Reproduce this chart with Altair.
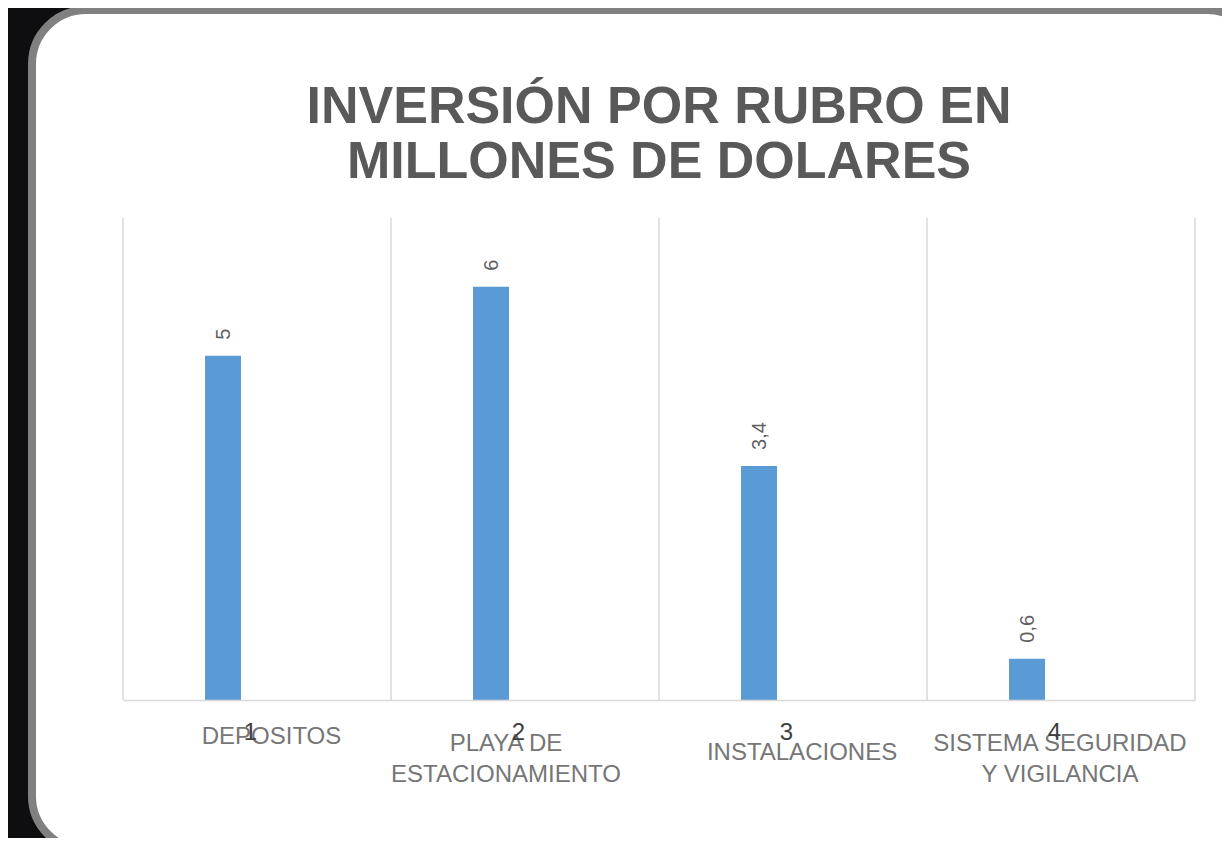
import altair as alt
import pandas as pd

# ---- data ----
nums = ["1", "2", "3", "4"]
names = ["DEPOSITOS", "PLAYA DE\nESTACIONAMIENTO", "INSTALACIONES", "SISTEMA SEGURIDAD\nY VIGILANCIA"]
values = [5, 6, 3.4, 0.6]
value_labels = ["5", "6", "3,4", "0,6"]
title_lines = ["INVERSIÓN POR RUBRO EN", "MILLONES DE DOLARES"]

df = pd.DataFrame({"num": nums, "name": names, "value": values, "label": value_labels})

# ---- layout / style ----
W, H = 1072, 482
FONT = "Liberation Sans"
GRID = "#d9d9d9"
BAR = "#5B9BD5"

xscale = alt.Scale(paddingInner=0, paddingOuter=0)
x_axis = alt.Axis(title=None, labelAngle=0, labelFontSize=24, labelColor="#404040",
                  labelFont=FONT, labelPadding=32, ticks=False, tickSize=0, grid=False,
                  domainColor=GRID, domainWidth=1.5, zindex=2)
xenc = alt.X("num:N", sort=nums, scale=xscale, axis=x_axis)
yenc = alt.Y("value:Q", scale=alt.Scale(domain=[0, 7], nice=False), axis=None)

base = alt.Chart(df)

card = alt.Chart(alt.Data(values=[{}])).mark_rect(
    fill="white", stroke="#808080", strokeWidth=8, cornerRadius=54
).encode(x=alt.value(-91), x2=alt.value(1138), y=alt.value(-208), y2=alt.value(632))

grid_left = base.mark_rule(color=GRID, strokeWidth=1.5).encode(
    x=alt.X("num:N", sort=nums, bandPosition=0))
grid_right = base.transform_filter(alt.datum.num == nums[-1]).mark_rule(
    color=GRID, strokeWidth=1.5).encode(x=alt.X("num:N", sort=nums, bandPosition=1))

bars = base.mark_bar(color=BAR, width=36, xOffset=-34).encode(x=xenc, y=yenc)

vlabels = base.mark_text(angle=270, align="left", baseline="middle", dx=16, xOffset=-33,
                         fontSize=20, color="#5f5f5f", font=FONT).encode(
    x=alt.X("num:N", sort=nums), y=yenc, text="label:N")

# category names overlaid below the axis numbers (offsets per label as in the reference)
name_style = [(14.5, 525.6), (-19, 532.7), (9, 542), (-1, 533)]
name_layers = []
for n, (dx, yv) in zip(nums, name_style):
    name_layers.append(
        base.transform_filter(alt.datum.num == n).mark_text(
            align="center", baseline="alphabetic", lineBreak="\n", lineHeight=31,
            fontSize=24, color="#767676", font=FONT, dx=dx
        ).encode(x=alt.X("num:N", sort=nums), y=alt.value(yv), text="name:N")
    )

title = alt.Chart(alt.Data(values=[{}])).mark_text(
    text=title_lines, align="center", baseline="alphabetic", lineHeight=55,
    fontSize=52, fontWeight="bold", color="#595959", font=FONT
).encode(x=alt.value(W / 2), y=alt.value(-95.5))

chart = alt.layer(card, grid_left, grid_right, bars, vlabels, *name_layers, title).properties(
    width=W, height=H, background="#0e0e10",
    padding={"left": 115, "top": 210, "right": 27, "bottom": 138},
    autosize=alt.AutoSizeParams(type="none"),
).configure_view(stroke=None)

chart.save("out.html", embed_options={"renderer": "svg", "actions": False})
